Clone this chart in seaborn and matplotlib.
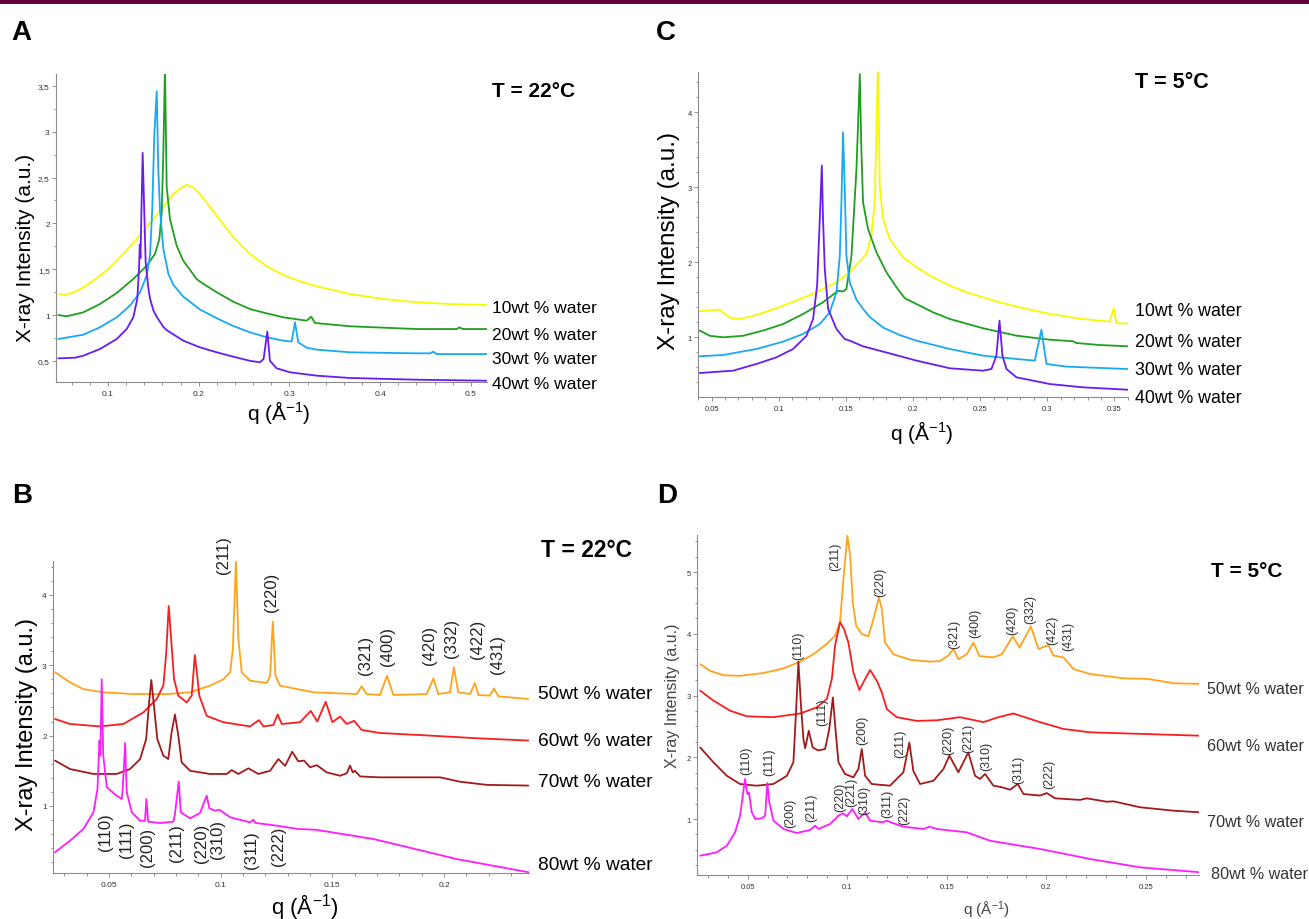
import matplotlib
matplotlib.use("Agg")
import matplotlib.pyplot as plt
from matplotlib.patches import Rectangle
from matplotlib.ticker import MultipleLocator, FuncFormatter
import seaborn as sns

# ---- data: q (1/A) and intensity (a.u.) ----
# panel A, T = 22 C
A_Q10 = [0.046, 0.0526, 0.0636, 0.0728, 0.0875, 0.1003, 0.1132, 0.1279, 0.1426, 0.1573, 0.172, 0.1812,
         0.1867, 0.1940, 0.2014, 0.2198, 0.2381, 0.2565, 0.2749, 0.2932, 0.3116, 0.330, 0.3667, 0.4034,
         0.4402, 0.4769, 0.5173]
A_I10 = [1.23, 1.218, 1.254, 1.30, 1.40, 1.50, 1.63, 1.786, 1.957, 2.138, 2.32, 2.393,
         2.42, 2.39, 2.32, 2.083, 1.848, 1.666, 1.531, 1.436, 1.368, 1.313, 1.229, 1.175,
         1.139, 1.12, 1.109]
A_Q20 = [0.0452, 0.0545, 0.0728, 0.0912, 0.1096, 0.1279, 0.1426, 0.1518, 0.1566, 0.1592, 0.161, 0.1628,
         0.1647, 0.1683, 0.1757, 0.183, 0.1977, 0.2014, 0.2198, 0.2381, 0.2565, 0.2749, 0.2932, 0.319,
         0.324, 0.3281, 0.3667, 0.4402, 0.4842, 0.4875, 0.491, 0.5173]
A_I20 = [1.0, 0.986, 1.029, 1.12, 1.24, 1.393, 1.538, 1.666, 1.83, 2.12, 2.775, 3.70,
         2.4, 2.047, 1.756, 1.592, 1.393, 1.364, 1.248, 1.145, 1.065, 1.018, 0.975, 0.938,
         0.981, 0.913, 0.877, 0.847, 0.847, 0.865, 0.847, 0.847]
A_Q30 = [0.0452, 0.0728, 0.0912, 0.1096, 0.1242, 0.1353, 0.1426, 0.1463, 0.1488, 0.151, 0.1537, 0.1554,
         0.1573, 0.161, 0.1665, 0.172, 0.183, 0.2014, 0.2198, 0.2381, 0.2565, 0.2749, 0.2932, 0.3024,
         0.3061, 0.3097, 0.319, 0.33, 0.3667, 0.4402, 0.455, 0.4585, 0.462, 0.5173]
A_I30 = [0.738, 0.785, 0.866, 0.975, 1.102, 1.248, 1.43, 1.648, 2.157, 2.96, 3.44, 2.6,
         2.15, 1.72, 1.45, 1.33, 1.20, 1.06, 0.965, 0.88, 0.811, 0.757, 0.72, 0.71,
         0.92, 0.702, 0.643, 0.622, 0.593, 0.582, 0.582, 0.60, 0.574, 0.574]
A_Q40 = [0.0452, 0.0636, 0.0728, 0.0912, 0.1096, 0.1206, 0.1279, 0.1323, 0.1342, 0.135, 0.1358, 0.1382,
         0.1397, 0.1415, 0.1444, 0.1463, 0.150, 0.1537, 0.161, 0.1647, 0.183, 0.2014, 0.2198, 0.2381,
         0.2565, 0.2675, 0.2715, 0.2756, 0.2785, 0.2859, 0.3006, 0.33, 0.3667, 0.4402, 0.5173]
A_I40 = [0.527, 0.534, 0.556, 0.629, 0.738, 0.847, 0.975, 1.175, 1.50, 1.77, 1.62, 2.77,
         2.23, 1.575, 1.3, 1.18, 1.05, 0.98, 0.87, 0.835, 0.72, 0.647, 0.593, 0.545,
         0.50, 0.484, 0.52, 0.82, 0.50, 0.418, 0.375, 0.338, 0.313, 0.294, 0.283]

# panel C, T = 5 C
C_Q10 = [0.0412, 0.0561, 0.0598, 0.0648, 0.071, 0.0834, 0.0983, 0.1132, 0.1281, 0.143, 0.1529, 0.1653,
         0.169, 0.1715, 0.1740, 0.1752, 0.1777, 0.1827, 0.1926, 0.2026, 0.2149, 0.2274, 0.2398, 0.2522,
         0.2646, 0.277, 0.3018, 0.3266, 0.3465, 0.3495, 0.3515, 0.3602]
C_I10 = [1.347, 1.37, 1.31, 1.253, 1.244, 1.297, 1.387, 1.49, 1.60, 1.733, 1.867, 2.11,
         2.356, 2.8, 4.70, 3.02, 2.577, 2.31, 2.067, 1.933, 1.8, 1.689, 1.6, 1.533,
         1.467, 1.409, 1.311, 1.244, 1.209, 1.387, 1.19, 1.18]
C_Q20 = [0.0412, 0.0487, 0.0586, 0.0735, 0.0884, 0.1033, 0.1181, 0.133, 0.1442, 0.1479, 0.1504, 0.1542,
         0.1579, 0.1604, 0.1616, 0.1628, 0.1665, 0.1728, 0.1802, 0.1877, 0.1939, 0.1976, 0.2149, 0.2274,
         0.2522, 0.277, 0.3018, 0.3192, 0.3215, 0.339, 0.3602]
C_I20 = [1.09, 1.02, 1.0, 1.02, 1.09, 1.177, 1.31, 1.467, 1.62, 1.61, 1.644, 2.09,
         3.244, 4.51, 3.47, 2.8, 2.444, 2.133, 1.867, 1.667, 1.52, 1.488, 1.333, 1.244,
         1.12, 1.022, 0.968, 0.947, 0.924, 0.897, 0.88]
C_Q30 = [0.0412, 0.0586, 0.0834, 0.1033, 0.1181, 0.1306, 0.138, 0.143, 0.1455, 0.1467, 0.1479, 0.1492,
         0.1504, 0.1529, 0.1579, 0.1628, 0.1678, 0.1777, 0.1901, 0.2026, 0.2274, 0.2522, 0.277, 0.2907,
         0.2956, 0.2994, 0.3143, 0.3602]
C_I30 = [0.747, 0.764, 0.844, 0.942, 1.044, 1.177, 1.333, 1.6, 2.09, 2.8, 3.733, 2.98,
         2.09, 1.733, 1.5, 1.38, 1.27, 1.13, 1.03, 0.955, 0.844, 0.755, 0.711, 0.689,
         1.10, 0.644, 0.609, 0.577]
C_Q40 = [0.0412, 0.066, 0.0834, 0.0983, 0.1107, 0.1207, 0.1256, 0.1286, 0.1306, 0.1321, 0.133, 0.1343,
         0.1368, 0.143, 0.1492, 0.1529, 0.1628, 0.1777, 0.2026, 0.2274, 0.2522, 0.2584, 0.2621, 0.2644,
         0.2666, 0.2696, 0.277, 0.3018, 0.3266, 0.3602]
C_I40 = [0.524, 0.555, 0.644, 0.733, 0.844, 1.02, 1.244, 1.69, 2.58, 3.29, 2.58, 1.91,
         1.377, 1.11, 0.977, 0.955, 0.88, 0.809, 0.689, 0.587, 0.555, 0.577, 0.755, 1.222,
         0.755, 0.577, 0.467, 0.377, 0.333, 0.301]

# panel B, T = 22 C
B_Q50 = [0.0258, 0.0325, 0.0385, 0.0474, 0.0609, 0.0758, 0.0863, 0.0952, 0.1012, 0.1042,
         0.1054, 0.1068, 0.1079, 0.1094, 0.1131, 0.1206, 0.1221, 0.1233, 0.1245, 0.1265,
         0.1415, 0.1609, 0.1631, 0.1653, 0.1713, 0.1744, 0.1773, 0.1922, 0.1952, 0.1974,
         0.2026, 0.2044, 0.2063, 0.2116, 0.2138, 0.2153, 0.2205, 0.2223, 0.2243, 0.2377]
B_I50 = [2.9, 2.757, 2.66, 2.615, 2.59, 2.59, 2.615, 2.71, 2.8, 2.9,
         3.23, 4.48, 3.37, 2.9, 2.78, 2.747, 2.85, 3.62, 2.85, 2.71,
         2.615, 2.59, 2.7, 2.59, 2.577, 2.85, 2.577, 2.59, 2.81, 2.59,
         2.615, 2.97, 2.615, 2.59, 2.747, 2.577, 2.567, 2.67, 2.558, 2.52]
B_Q60 = [0.0258, 0.0325, 0.046, 0.0564, 0.0654, 0.0713, 0.0743, 0.0755, 0.0767, 0.0778,
         0.0791, 0.081, 0.0848, 0.087, 0.0884, 0.0893, 0.0904, 0.0937, 0.1012, 0.1131,
         0.1171, 0.1191, 0.1235, 0.1255, 0.1273, 0.1355, 0.1403, 0.1432, 0.147, 0.150,
         0.1534, 0.1564, 0.1597, 0.1631, 0.1713, 0.1937, 0.2161, 0.2377]
B_I60 = [2.236, 2.165, 2.13, 2.165, 2.33, 2.52, 2.71, 3.135, 3.84, 3.37,
         2.80, 2.567, 2.47, 2.567, 3.145, 2.9, 2.567, 2.28, 2.19, 2.13,
         2.22, 2.13, 2.15, 2.30, 2.165, 2.19, 2.35, 2.2, 2.48, 2.19,
         2.27, 2.165, 2.21, 2.08, 2.037, 2.0, 1.96, 1.93]
B_Q70 = [0.0258, 0.0325, 0.043, 0.0534, 0.0594, 0.0639, 0.0666, 0.0678, 0.0689, 0.0701,
         0.0716, 0.0743, 0.0765, 0.078, 0.0795, 0.081, 0.0825, 0.0863, 0.0952, 0.1027,
         0.1049, 0.1079, 0.1124, 0.1168, 0.1221, 0.1258, 0.1288, 0.132, 0.1347, 0.1373,
         0.140, 0.143, 0.1474, 0.1534, 0.1564, 0.1579, 0.1591, 0.1601, 0.1624, 0.1713,
         0.1862, 0.1982, 0.2071, 0.2191, 0.2377]
B_I70 = [1.645, 1.525, 1.455, 1.455, 1.525, 1.667, 1.95, 2.425, 2.79, 2.425,
         1.95, 1.715, 1.667, 2.05, 2.30, 2.0, 1.62, 1.50, 1.455, 1.455,
         1.51, 1.455, 1.535, 1.455, 1.5, 1.667, 1.57, 1.77, 1.635, 1.645,
         1.55, 1.58, 1.478, 1.43, 1.465, 1.573, 1.478, 1.5, 1.42, 1.407,
         1.407, 1.407, 1.345, 1.30, 1.29]
B_Q80 = [0.0258, 0.0325, 0.0385, 0.043, 0.0448, 0.0457, 0.0461, 0.0467, 0.0474, 0.049,
         0.0534, 0.0557, 0.0561, 0.0572, 0.0579, 0.0602, 0.0639, 0.0661, 0.0667, 0.0675,
         0.0728, 0.0788, 0.0795, 0.0812, 0.0821, 0.0863, 0.0907, 0.0937, 0.0949, 0.0974,
         0.0994, 0.1042, 0.1131, 0.1146, 0.1155, 0.1251, 0.1347, 0.1424, 0.1684, 0.187,
         0.2055, 0.238]
B_I80 = [0.342, 0.507, 0.673, 0.91, 1.24, 1.93, 1.715, 2.80, 1.715, 1.265,
         1.146, 1.10, 1.24, 1.895, 1.195, 0.91, 0.79, 0.79, 1.10, 0.777,
         0.758, 0.777, 0.886, 1.35, 0.91, 0.825, 0.90, 1.146, 0.967, 0.933,
         0.947, 0.84, 0.768, 0.805, 0.76, 0.72, 0.673, 0.663, 0.531, 0.389,
         0.247, 0.058]

# panel D, T = 5 C
D_Q50 = [0.0262, 0.0312, 0.0379, 0.0462, 0.0579, 0.068, 0.0764, 0.083, 0.0898, 0.0939,
         0.0964, 0.0981, 0.1001, 0.1015, 0.1028, 0.1045, 0.1073, 0.1106, 0.1132, 0.1159,
         0.1174, 0.119, 0.1232, 0.1316, 0.1416, 0.1466, 0.1508, 0.1533, 0.1558, 0.160,
         0.1634, 0.1664, 0.1734, 0.1776, 0.1831, 0.1865, 0.1922, 0.196, 0.201, 0.2035,
         0.2085, 0.2136, 0.2219, 0.2387, 0.2512, 0.2638, 0.2772]
D_I50 = [3.51, 3.40, 3.33, 3.32, 3.366, 3.44, 3.55, 3.67, 3.84, 3.97,
         4.19, 4.89, 5.59, 5.27, 4.51, 4.13, 4.0, 3.96, 4.24, 4.59,
         4.40, 3.86, 3.67, 3.58, 3.55, 3.56, 3.65, 3.755, 3.59, 3.67,
         3.86, 3.64, 3.62, 3.67, 3.96, 3.78, 4.12, 3.755, 3.82, 3.65,
         3.62, 3.43, 3.35, 3.28, 3.27, 3.20, 3.19]
D_Q60 = [0.0262, 0.0328, 0.0412, 0.0496, 0.0629, 0.0764, 0.0847, 0.0898, 0.0923, 0.0939,
         0.0964, 0.0984, 0.1006, 0.1031, 0.1061, 0.1081, 0.1115, 0.1149, 0.1174, 0.1199,
         0.1249, 0.1349, 0.145, 0.1566, 0.1684, 0.1759, 0.1834, 0.1968, 0.2085, 0.2219,
         0.247, 0.2772]
D_I60 = [3.08, 2.92, 2.755, 2.665, 2.65, 2.71, 2.81, 2.945, 3.27, 3.81,
         4.19, 4.08, 3.86, 3.38, 3.09, 3.215, 3.415, 3.24, 3.05, 2.78,
         2.65, 2.59, 2.60, 2.65, 2.57, 2.65, 2.71, 2.57, 2.46, 2.405,
         2.38, 2.35]
D_Q70 = [0.0262, 0.0328, 0.0396, 0.0462, 0.0546, 0.0629, 0.0697, 0.073, 0.0743, 0.0755,
         0.0767, 0.078, 0.0789, 0.0807, 0.0827, 0.0855, 0.0889, 0.091, 0.0928, 0.0941,
         0.0956, 0.0989, 0.1031, 0.1056, 0.1073, 0.109, 0.1123, 0.1215, 0.1282, 0.1312,
         0.1332, 0.1366, 0.1433, 0.1483, 0.1513, 0.1558, 0.1608, 0.1642, 0.1667, 0.1692,
         0.1734, 0.1776, 0.1818, 0.1856, 0.1885, 0.1968, 0.2002, 0.2044, 0.2169, 0.2203,
         0.2303, 0.2336, 0.247, 0.2638, 0.2772]
D_I70 = [2.16, 1.92, 1.70, 1.567, 1.54, 1.567, 1.70, 1.92, 2.73, 3.55,
         2.89, 2.30, 2.146, 2.43, 2.16, 2.11, 2.135, 2.46, 2.97, 2.46,
         1.92, 1.73, 1.675, 1.81, 2.135, 1.70, 1.567, 1.54, 1.757, 2.24,
         1.78, 1.567, 1.62, 1.81, 2.026, 1.757, 2.08, 1.70, 1.65, 1.73,
         1.54, 1.515, 1.475, 1.567, 1.405, 1.38, 1.42, 1.335, 1.31, 1.335,
         1.28, 1.287, 1.19, 1.135, 1.108]
D_Q80 = [0.0262, 0.0345, 0.0396, 0.0437, 0.0462, 0.0476, 0.0487, 0.0499, 0.0507, 0.0521,
         0.0538, 0.0571, 0.0588, 0.0599, 0.0609, 0.063, 0.068, 0.0747, 0.0814, 0.0839,
         0.0855, 0.0914, 0.0956, 0.0978, 0.0998, 0.1026, 0.1056, 0.109, 0.1115, 0.1182,
         0.1195, 0.1282, 0.1383, 0.1413, 0.145, 0.16, 0.1717, 0.1968, 0.2219, 0.247,
         0.2772]
D_I80 = [0.405, 0.46, 0.567, 0.784, 1.053, 1.378, 1.648, 1.405, 1.43, 1.108,
         1.0, 1.011, 1.053, 1.583, 1.27, 0.973, 0.838, 0.773, 0.822, 0.892,
         0.838, 0.919, 1.053, 1.092, 1.044, 1.162, 1.0, 1.108, 0.973, 0.946,
         0.973, 0.875, 0.838, 0.875, 0.838, 0.784, 0.648, 0.514, 0.352, 0.217,
         0.136]

LABELS_AC = ["10wt % water", "20wt % water", "30wt % water", "40wt % water"]
LABELS_BD = ["50wt % water", "60wt % water", "70wt % water", "80wt % water"]

B_HKL_TOP = ["(211)", "(220)", "(321)", "(400)", "(420)", "(332)", "(422)", "(431)"]
B_HKL_LOW = ["(110)", "(111)", "(200)", "(211)", "(220)", "(310)", "(311)", "(222)"]
D_HKL_TOP = ["(211)", "(220)", "(321)", "(400)", "(420)", "(332)", "(422)", "(431)"]
D_HKL_MID = ["(110)", "(111)", "(200)", "(211)", "(220)", "(221)", "(310)", "(311)", "(222)"]
D_HKL_LOW = ["(110)", "(111)", "(200)", "(211)", "(220)", "(221)", "(310)", "(311)", "(222)"]

# ---- colours / layout (pixels of a 1309 x 920 canvas) ----
YEL, GRN, CYA, PUR = "#F8F800", "#1F9E1F", "#18A9F2", "#6A1CF0"
ORA, RED, DRD, MAG = "#FFA31A", "#F81E1E", "#A31A1A", "#FF1CFF"

W, H = 1309, 920

sns.set_theme(style="white")
plt.rcParams["font.family"] = ["Liberation Sans", "DejaVu Sans"]
plt.rcParams["mathtext.default"] = "regular"
plt.rcParams["text.color"] = "black"

fig = plt.figure(figsize=(W / 100, H / 100), dpi=100)
fig.add_artist(Rectangle((0, 1 - 5 / H), 1, 5 / H, transform=fig.transFigure,
                         color="#63003A", lw=0))


def box(x0, y0, x1, y1):
    return [x0 / W, 1 - y1 / H, (x1 - x0) / W, (y1 - y0) / H]


def put(x, y, s, **kw):
    fig.text(x / W, 1 - y / H, s, **kw)


def dec_comma(v, pos):
    return f"{v:g}".replace(".", ",")


def plain(v, pos):
    return f"{v:g}"


def panel(rect, xlim, ylim, curves, xstep, ystep, yfmt=plain, tsize=6):
    ax = fig.add_axes(rect)
    for q, inten, col in curves:
        sns.lineplot(x=q, y=inten, ax=ax, color=col, linewidth=1.3, sort=False,
                     estimator=None, errorbar=None, legend=False)
    ax.set_xlim(*xlim)
    ax.set_ylim(*ylim)
    ax.set_xlabel("")
    ax.set_ylabel("")
    ax.set_facecolor("none")
    for side in ["top", "right"]:
        ax.spines[side].set_visible(False)
    for side in ["left", "bottom"]:
        ax.spines[side].set_color("#8a8a8a")
        ax.spines[side].set_linewidth(0.8)
    ax.xaxis.set_major_locator(MultipleLocator(xstep[0]))
    ax.xaxis.set_minor_locator(MultipleLocator(xstep[1]))
    ax.yaxis.set_major_locator(MultipleLocator(ystep[0]))
    ax.yaxis.set_minor_locator(MultipleLocator(ystep[1]))
    ax.xaxis.set_major_formatter(FuncFormatter(plain))
    ax.yaxis.set_major_formatter(FuncFormatter(yfmt))
    ax.tick_params(which="both", bottom=True, left=True, direction="out",
                   color="#808080", width=0.6, labelsize=tsize, labelcolor="#333333")
    ax.tick_params(which="major", length=3, pad=2.5)
    ax.tick_params(which="minor", length=1.8)
    ax.tick_params(axis="y", which="major", pad=1.5)
    return ax


# A
panel(box(56, 75, 487, 383), (0.0427, 0.5177), (0.269, 3.63),
      [(A_Q10, A_I10, YEL), (A_Q20, A_I20, GRN), (A_Q30, A_I30, CYA), (A_Q40, A_I40, PUR)],
      (0.1, 0.02), (0.5, 0.25), yfmt=dec_comma)
# C
panel(box(698, 73, 1128, 398), (0.0399, 0.3601), (0.204, 4.537),
      [(C_Q10, C_I10, YEL), (C_Q20, C_I20, GRN), (C_Q30, C_I30, CYA), (C_Q40, C_I40, PUR)],
      (0.05, 0.01), (1, 0.2), tsize=5.5)
# B
panel(box(53, 562, 529, 874), (0.0249, 0.2380), (0.0483, 4.48),
      [(B_Q50, B_I50, ORA), (B_Q60, B_I60, RED), (B_Q70, B_I70, DRD), (B_Q80, B_I80, MAG)],
      (0.05, 0.01), (1, 0.2))
# D
panel(box(697, 536, 1199, 876), (0.0246, 0.2766), (0.0924, 5.603),
      [(D_Q50, D_I50, ORA), (D_Q60, D_I60, RED), (D_Q70, D_I70, DRD), (D_Q80, D_I80, MAG)],
      (0.05, 0.01), (1, 0.25), tsize=5.5)

# panel letters and temperatures
for x, y, s in [(11, 40, "A"), (656, 40, "C"), (12, 503, "B"), (657, 503, "D")]:
    put(x, y, s, fontsize=20, fontweight="bold", ha="left", va="baseline")
put(492, 97, "T = 22°C", fontsize=15, fontweight="bold", va="baseline")
put(1135, 88, "T = 5°C", fontsize=15.5, fontweight="bold", va="baseline")
put(541, 557, "T = 22°C", fontsize=16.5, fontweight="bold", va="baseline")
put(1211, 577, "T = 5°C", fontsize=15, fontweight="bold", va="baseline")

# curve labels
for s, y in zip(LABELS_AC, [313, 339.5, 364.5, 389]):
    put(492, y, s, fontsize=12.6, va="baseline")
for s, y in zip(LABELS_AC, [316, 346.6, 375, 402.6]):
    put(1135, y, s, fontsize=12.8, va="baseline")
for s, y in zip(LABELS_BD, [699.3, 746.3, 787, 869.7]):
    put(538, y, s, fontsize=13.8, va="baseline")
for s, x, y in zip(LABELS_BD, [1207, 1207, 1207, 1211], [694.3, 751, 827, 879.3]):
    put(x, y, s, fontsize=11.6, va="baseline", color="#333333")

# axis titles
YLAB = "X-ray Intensity (a.u.)"
XLAB = "q (Å$^{-1}$)"
put(26, 248, YLAB, fontsize=15, rotation=90, ha="center", va="center")
put(668.5, 241, YLAB, fontsize=17.5, rotation=90, ha="center", va="center")
put(27, 725, YLAB, fontsize=17, rotation=90, ha="center", va="center")
put(672, 696, YLAB, fontsize=11.5, rotation=90, ha="center", va="center", color="#444444")
put(278.6, 413, XLAB, fontsize=15, ha="center", va="center")
put(922, 433, XLAB, fontsize=15, ha="center", va="center")
put(305, 907, XLAB, fontsize=16, ha="center", va="center")
put(986.5, 910, XLAB, fontsize=11, ha="center", va="center", color="#444444")

# Miller indices
B_TOP_XY = [(224, 555), (271.8, 592), (365, 655), (387, 646), (429.5, 645), (452, 638),
            (477, 639), (498, 654)]
B_LOW_XY = [(105.8, 832), (126.5, 840), (147.3, 847), (176.3, 843), (202, 843), (217.8, 840),
            (251, 850), (278.8, 846)]
D_TOP_XY = [(835, 557), (880, 582), (954, 634), (975.6, 623), (1012, 620), (1030, 609),
            (1052, 630), (1068, 636)]
D_MID_XY = [(798, 646), (822.3, 712), (862, 730), (900, 744), (948.3, 740), (968.5, 738),
            (986, 756), (1018, 770), (1049, 774)]
D_LOW_XY = [(746.6, 761), (769, 762), (790, 813), (811, 808), (840, 797), (851.7, 792),
            (864.3, 800), (887.4, 804), (904.2, 810)]
for names, xy in [(B_HKL_TOP, B_TOP_XY), (B_HKL_LOW, B_LOW_XY)]:
    for s, (x, y) in zip(names, xy):
        put(x, y, s, fontsize=12, rotation=90, ha="center", va="center", color="#222222")
for names, xy in [(D_HKL_TOP, D_TOP_XY), (D_HKL_MID, D_MID_XY), (D_HKL_LOW, D_LOW_XY)]:
    for s, (x, y) in zip(names, xy):
        put(x, y, s, fontsize=9, rotation=90, ha="center", va="center", color="#333333")

fig.savefig("out.png", dpi=100)
